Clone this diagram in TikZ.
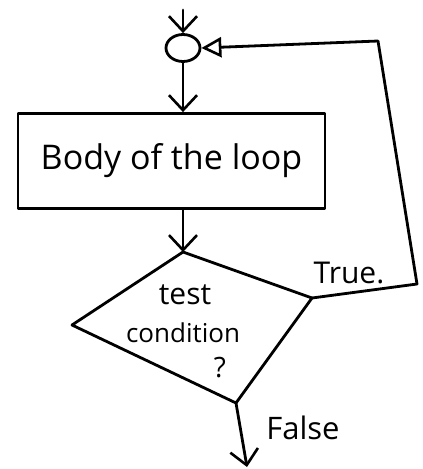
\documentclass[tikz,border=0pt]{standalone}
\usepackage{fontspec}
\setmainfont{Open Sans}
\usetikzlibrary{arrows.meta,shapes.geometric}
\begin{document}
\begin{tikzpicture}[x=1pt,y=-1pt,line width=2.8pt,line cap=round,line join=round,
  flow/.style={-{Straight Barb[length=15pt,width=28pt,line width=2.6pt]}},
  back/.style={-{Triangle[open,length=20pt,width=20pt,line width=2.6pt]}},
  lbl/.style={inner sep=0pt}]
\useasboundingbox (0,0) rectangle (423,469);
% nodes
\coordinate (start) at (183,10);
\node[draw,ellipse,minimum width=34pt,minimum height=27pt,inner sep=0pt] (join) at (183,48) {};
\node[draw,rectangle,minimum width=307pt,minimum height=95pt,inner sep=0pt,
      font=\fontsize{34}{36}\selectfont] (body) at (171.5,161) {Body of the loop};
% decision
\coordinate (dt) at (183,252);
\coordinate (dr) at (312,298);
\coordinate (db) at (236,403);
\coordinate (dl) at (72,325);
\draw (dt) -- (dr) -- (db) -- (dl) -- cycle;
\node[lbl,font=\fontsize{30}{32}\selectfont] (t1) at (185,295) {test};
\node[lbl,font=\fontsize{26}{28}\selectfont] (t2) at (183,333) {condition};
\node[lbl,font=\fontsize{28}{30}\selectfont] (t3) at (220,368) {?};
% connectors
\draw[flow] (start) -- (join.north);
\draw[flow] (join.south) -- (join.south |- body.north);
\draw[flow] (dt |- body.south) -- (dt);
\coordinate (tr) at (417,284);
\coordinate (tc) at (378,41);
\draw[back] (dr) -- (tr) -- (tc) -- (join.east);
\coordinate (fend) at (247,467);
\draw[flow] (db) -- (fend);
% labels
\node[lbl,font=\fontsize{30}{32}\selectfont] (true) at (349,273) {True.};
\node[lbl,font=\fontsize{31}{33}\selectfont] (false) at (303,428) {False};
\end{tikzpicture}
\end{document}
